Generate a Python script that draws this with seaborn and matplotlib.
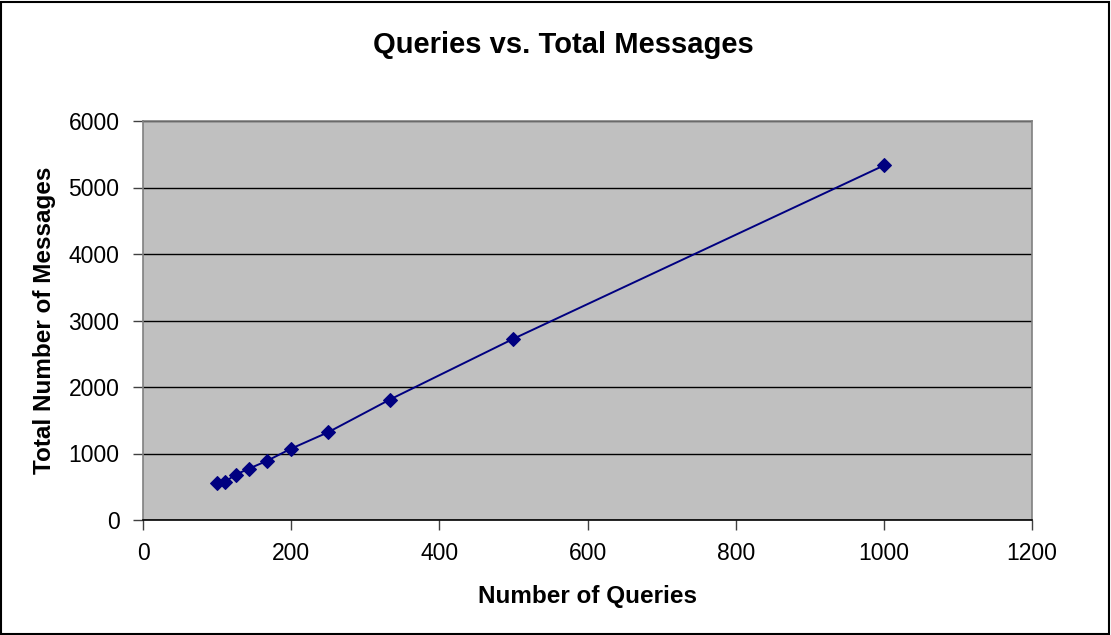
import matplotlib
matplotlib.use("Agg")
import matplotlib.pyplot as plt
import seaborn as sns
import pandas as pd

queries = [100, 111, 125, 143, 167, 200, 250, 333, 500, 1000]
messages = [552, 576, 682, 772, 888, 1073, 1320, 1810, 2725, 5331]
x_ticks = [0, 200, 400, 600, 800, 1000, 1200]
y_ticks = [0, 1000, 2000, 3000, 4000, 5000, 6000]

sns.set_theme(style="white")
plt.rcParams["font.family"] = ["Liberation Sans", "DejaVu Sans"]

df = pd.DataFrame({"Number of Queries": queries, "Total Number of Messages": messages})

fig = plt.figure(figsize=(11.11, 6.35), dpi=100)
ax = fig.add_axes([143 / 1111, 1 - 520 / 635, (1032 - 143) / 1111, (520 - 121) / 635])
ax.set_facecolor("#C0C0C0")

sns.lineplot(data=df, x="Number of Queries", y="Total Number of Messages", ax=ax,
             color="#000080", linewidth=1.4, marker="D", markersize=7.5,
             markeredgecolor="#000080", markerfacecolor="#000080")

ax.set_xlim(0, 1200)
ax.set_ylim(0, 6000)
ax.set_xticks(x_ticks)
ax.set_yticks(y_ticks)
ax.yaxis.grid(True, color="black", linewidth=1)
ax.xaxis.grid(False)
ax.set_axisbelow(True)

ax.tick_params(axis="both", which="major", direction="out", length=7, width=1,
               color="#404040", labelsize=16.5, labelcolor="black",
               bottom=True, left=True)
ax.tick_params(axis="x", pad=9)
ax.tick_params(axis="y", pad=10)
ax.spines["bottom"].set_color("black")
ax.spines["bottom"].set_linewidth(1.2)
for side in ("left", "top", "right"):
    ax.spines[side].set_color("#808080")
    ax.spines[side].set_linewidth(1.2)

ax.set_xlabel("Number of Queries", fontsize=17.5, fontweight="bold",
              color="black", va="center")
ax.set_ylabel("Total Number of Messages", fontsize=17.5, fontweight="bold",
              color="black", va="center")
ax.xaxis.set_label_coords(0.5, (520 - 597) / 399)
ax.yaxis.set_label_coords((44.5 - 143) / 889, 0.5)

fig.text(563 / 1111, 1 - 45 / 635, "Queries vs. Total Messages", fontsize=21,
         fontweight="bold", color="black", ha="center", va="center")

# outer chart border
border = plt.Rectangle((0.001, 0.002), 0.997, 0.995, transform=fig.transFigure,
                       fill=False, edgecolor="black", linewidth=1.5)
fig.patches.append(border)

fig.savefig("out.png", dpi=100)
